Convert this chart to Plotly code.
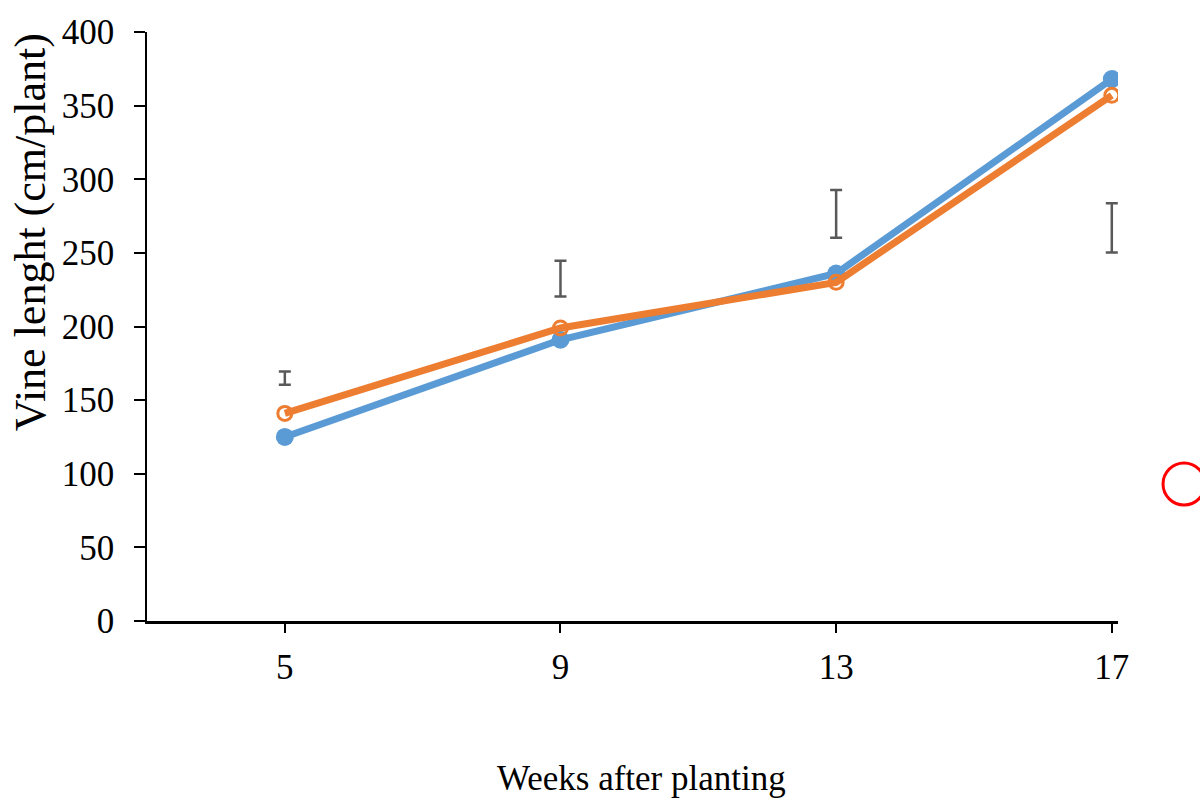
import plotly.graph_objects as go

# Weeks after planting
weeks = [5, 9, 13, 17]

# Vine length (cm/plant) for the two treatments
blue_vals = [125, 191, 236, 368]
orange_vals = [141, 199, 230, 357]

# Stand-alone LSD bars (centre and half-length)
lsd_centre = [165, 232.5, 276.5, 267]
lsd_half = [4.5, 12.2, 16.2, 16.7]

y_ticks = [0, 50, 100, 150, 200, 250, 300, 350, 400]

SERIF = "Liberation Serif"
BLUE = "#5B9BD5"
ORANGE = "#ED7D31"

fig = go.Figure()

# LSD bars drawn as error bars on invisible points
fig.add_trace(go.Scatter(
    x=weeks, y=lsd_centre, mode="markers",
    marker=dict(size=1, color="rgba(0,0,0,0)"),
    error_y=dict(type="data", array=lsd_half, symmetric=True,
                 color="#595959", thickness=2.5, width=6),
    showlegend=False, hoverinfo="skip",
))

fig.add_trace(go.Scatter(
    x=weeks, y=blue_vals, mode="lines+markers",
    line=dict(color=BLUE, width=7),
    marker=dict(symbol="circle", size=18, color=BLUE),
    showlegend=False,
))

fig.add_trace(go.Scatter(
    x=weeks, y=orange_vals, mode="lines+markers",
    line=dict(color=ORANGE, width=7),
    marker=dict(symbol="circle-open", size=14, color=ORANGE,
                line=dict(color=ORANGE, width=3)),
    showlegend=False,
))

x_range = [3, 17.09]

fig.update_layout(
    width=1200, height=801,
    margin=dict(l=147, r=82, t=32, b=180),
    paper_bgcolor="white", plot_bgcolor="white",
    font=dict(family=SERIF, color="black"),
    xaxis=dict(
        range=x_range, tickvals=weeks, ticktext=[str(w) for w in weeks],
        showgrid=False, zeroline=False,
        showline=True, linecolor="black", linewidth=2.5,
        ticks="outside", ticklen=9, tickwidth=1.5, tickcolor="black",
        tickfont=dict(family=SERIF, size=35, color="black"),
        ticklabelstandoff=4,
    ),
    # second axis on the same scale to draw the inner half of the ticks
    xaxis2=dict(
        range=x_range, tickvals=weeks, overlaying="x", anchor="y",
        side="bottom", showgrid=False, zeroline=False, showline=False,
        ticks="inside", ticklen=9, tickwidth=1.5, tickcolor="black",
        showticklabels=False,
    ),
    yaxis=dict(
        range=[0, 400], tickvals=y_ticks,
        showgrid=False, zeroline=False,
        showline=True, linecolor="black", linewidth=1.5,
        ticks="outside", ticklen=11, tickwidth=1.5, tickcolor="black",
        tickfont=dict(family=SERIF, size=35, color="black"),
        ticklabelstandoff=13,
    ),
    annotations=[
        dict(text="Weeks after planting", xref="paper", yref="paper",
             x=0.509, y=-0.2666, xanchor="center", yanchor="middle",
             showarrow=False, font=dict(family=SERIF, size=35, color="black")),
        dict(text="Vine lenght (cm/plant)", xref="paper", yref="paper",
             x=-0.1205, y=0.660, xanchor="center", yanchor="middle",
             textangle=-90, showarrow=False,
             font=dict(family=SERIF, size=44, color="black")),
    ],
    shapes=[
        dict(type="circle", xref="paper", yref="paper",
             xsizemode="pixel", ysizemode="pixel",
             xanchor=1.068, yanchor=0.2326,
             x0=-21, x1=21, y0=-21, y1=21,
             line=dict(color="#FF0000", width=3)),
    ],
)

fig.write_html("out.html")
